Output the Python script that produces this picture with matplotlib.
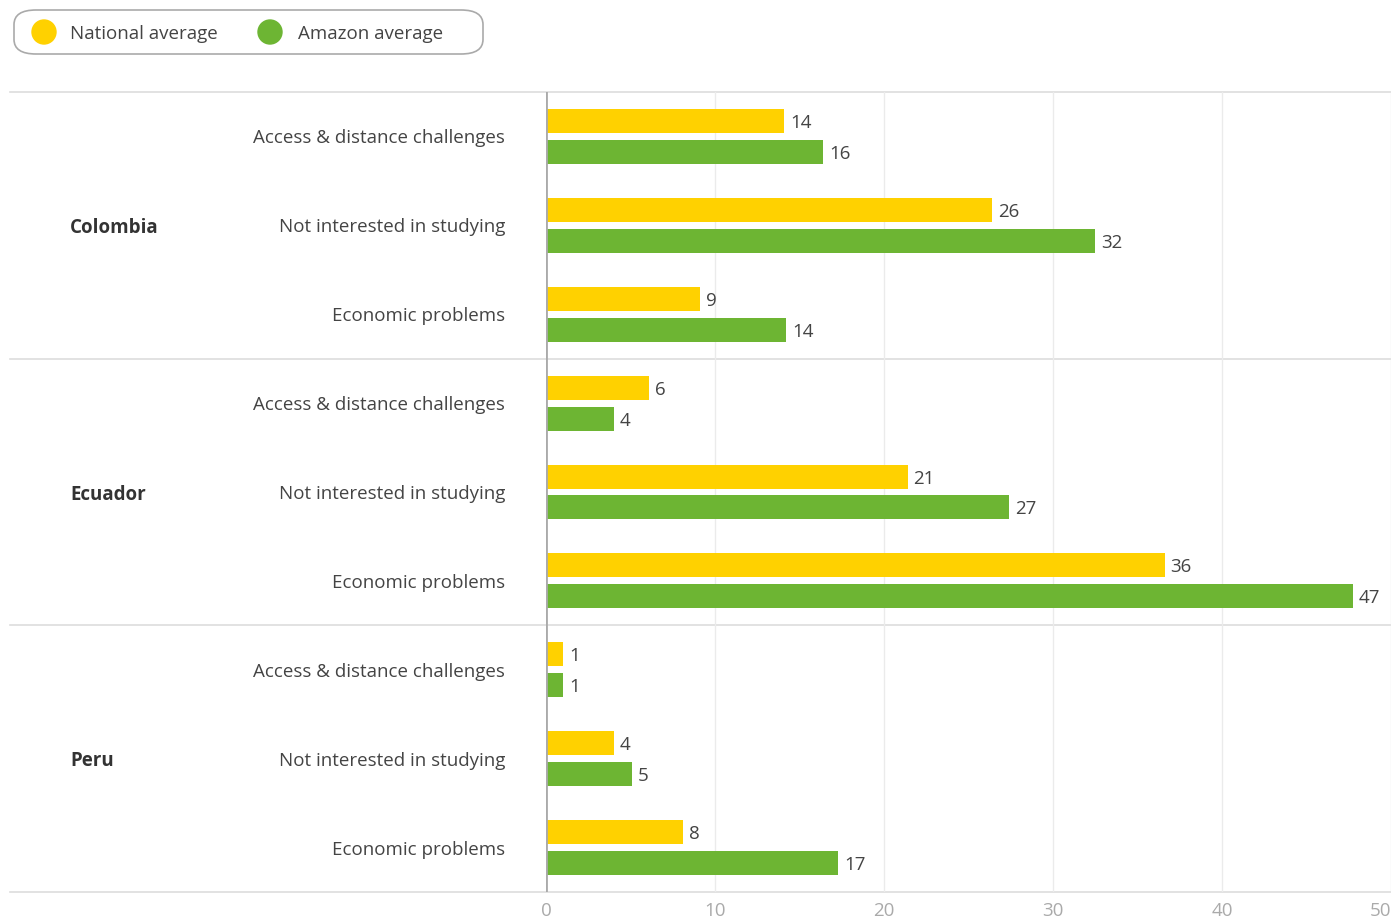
import matplotlib.pyplot as plt
from matplotlib.patches import FancyBboxPatch, Circle
import matplotlib.transforms as mtransforms

plt.rcParams["font.family"] = ["Open Sans", "DejaVu Sans"]

COUNTRIES = ["Colombia", "Ecuador", "Peru"]
REASONS = ["Access & distance challenges", "Not interested in studying", "Economic problems"]
SERIES = ["National average", "Amazon average"]
COLORS = ["#FFD100", "#6DB533"]

# bar lengths (labels show the truncated integer)
NATIONAL = [14.1, 26.4, 9.1, 6.1, 21.4, 36.6, 1.0, 4.0, 8.1]
AMAZON = [16.4, 32.5, 14.2, 4.0, 27.4, 47.75, 1.0, 5.1, 17.3]

XTICKS = [0, 10, 20, 30, 40, 50]

W, H = 1391, 919
FS = 13.5
fig = plt.figure(figsize=(W / 100, H / 100), dpi=100)

# plot area in pixels
left, right, top, bottom = 546, 1391, 92, 892
ax = fig.add_axes([left / W, (H - bottom) / H, (right - left) / W, (bottom - top) / H])

n_slots = len(COUNTRIES) * len(REASONS)
off = 15.5 / 89
bh = 24 / 89
for i in range(n_slots):
    c = i + 0.5
    for vals, color, dy in ((NATIONAL, COLORS[0], -off), (AMAZON, COLORS[1], off)):
        v = vals[i]
        ax.barh(c + dy, v, height=bh, color=color, zorder=3)
        ax.text(v + 0.35, c + dy, f"{int(v)}", va="center_baseline", ha="left",
                fontsize=FS, color="#444444", zorder=4)

ax.set_xlim(0, 50)
ax.set_ylim(n_slots, 0)
ax.set_xticks(XTICKS)
ax.set_yticks([])
ax.tick_params(axis="x", length=0, labelsize=13.5, labelcolor="#aaaaaa", pad=7)
ax.get_xticklabels()[-1].set_horizontalalignment("right")
for s in ax.spines.values():
    s.set_visible(False)
ax.grid(axis="x", color="#ebebeb", lw=1, zorder=0)
ax.axvline(0, color="#aaaaaa", lw=2, zorder=5)

trans = mtransforms.blended_transform_factory(ax.transAxes, ax.transData)
x_sep = (10 - left) / (right - left)
for g in range(len(COUNTRIES) + 1):
    y = g * len(REASONS)
    ax.plot([x_sep, 1], [y, y], transform=trans, color="#dddddd", lw=1.2,
            clip_on=False, zorder=1)

x_cat = (505 - left) / (right - left)
x_country = (70 - left) / (right - left)
for gi, country in enumerate(COUNTRIES):
    ax.text(x_country, gi * len(REASONS) + len(REASONS) / 2, country, transform=trans,
            ha="left", va="center_baseline", fontsize=FS, fontweight="bold",
            color="#333333")
    for ri, reason in enumerate(REASONS):
        ax.text(x_cat, gi * len(REASONS) + ri + 0.5, reason, transform=trans,
                ha="right", va="center_baseline", fontsize=FS, color="#444444")

# legend box
box = FancyBboxPatch((14 / W, 1 - 54 / H), (483 - 14) / W, 44 / H,
                     boxstyle=f"round,pad=0,rounding_size={22 / W}",
                     transform=fig.transFigure, fc="white", ec="#aaaaaa", lw=1.2)
fig.patches.append(box)
for sx, tx, name, color in zip((44, 270), (70, 298), SERIES, COLORS):
    fig.patches.append(Circle((sx, H - 32), 12, transform=None, color=color))
    fig.text(tx / W, 1 - 32 / H, name, ha="left", va="center_baseline",
             fontsize=FS, color="#444444")

fig.savefig("out.png", dpi=100)
